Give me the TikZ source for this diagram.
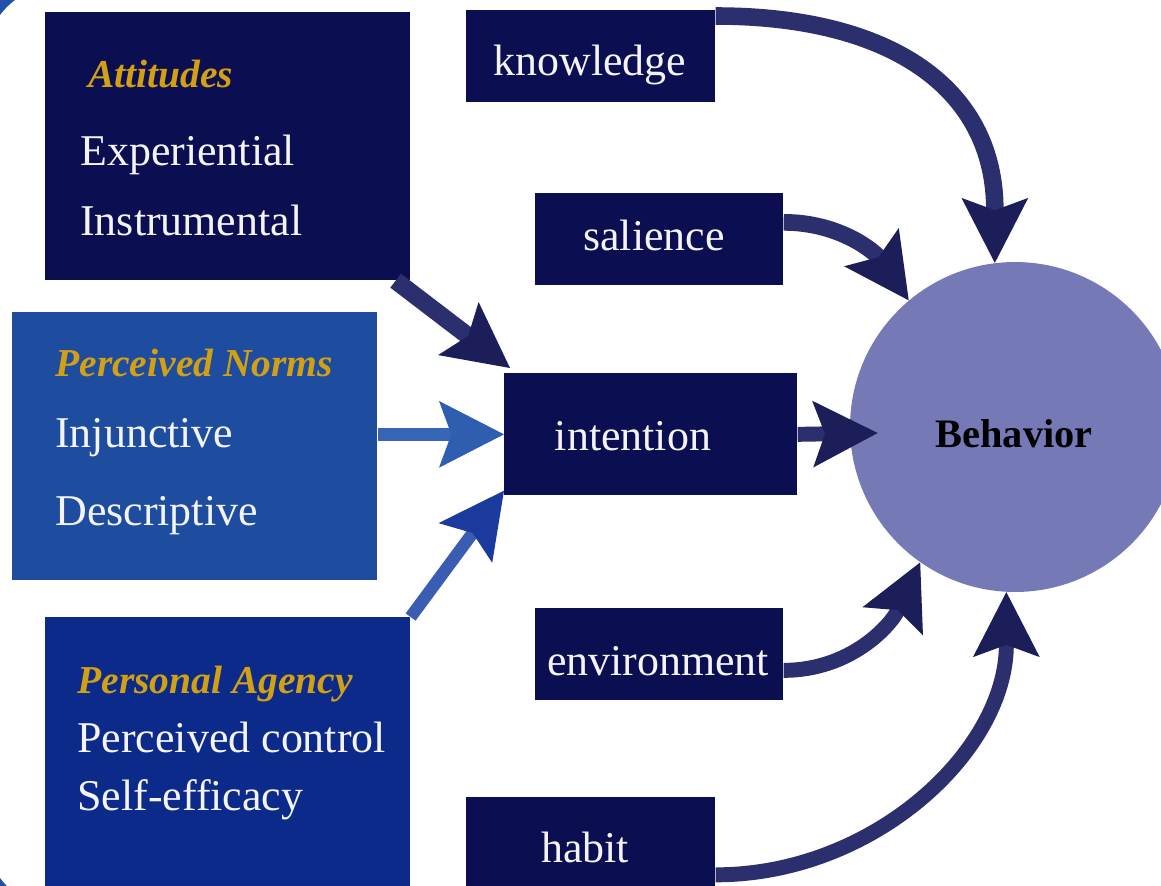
\documentclass[tikz,border=0pt]{standalone}
\usepackage{fontspec}
\setmainfont{Liberation Serif}
\usetikzlibrary{arrows.meta}

\definecolor{navybox}{HTML}{0B0E50}
\definecolor{normsblue}{HTML}{1E4C9E}
\definecolor{agencyblue}{HTML}{0C2A8A}
\definecolor{headgold}{HTML}{D1A015}
\definecolor{boxtext}{HTML}{F4F4F4}
\definecolor{behfill}{HTML}{7579B6}
\definecolor{frameblue}{HTML}{2350A8}
\definecolor{shaftnavy}{HTML}{2C2F6D}
\definecolor{headnavy}{HTML}{1C1E5A}
\definecolor{shaftnorms}{HTML}{3766B6}
\definecolor{headnorms}{HTML}{2F5DB0}
\definecolor{shaftagency}{HTML}{3A5DB3}
\definecolor{headagency}{HTML}{1A3A9E}

\begin{document}
\begin{tikzpicture}[x=0.02cm, y=-0.02cm,
  box/.style={rectangle, anchor=north west, inner sep=0pt},
  itemtxt/.style={anchor=base west, inner sep=0pt, text=boxtext, font=\fontsize{25}{30}\selectfont},
  headtxt/.style={anchor=base west, inner sep=0pt, text=headgold, font=\fontsize{22.5}{27}\selectfont\bfseries\itshape},
  boxtxt/.style={anchor=base, inner sep=0pt, text=boxtext, font=\fontsize{25}{30}\selectfont},
  fat/.style={line width=#1},
  headtip/.style={-{Stealth[length=37pt, width=38pt, inset=7pt, line width=0pt, color=#1]}}]

\useasboundingbox (0,0) rectangle (1161,886);
\fill[white] (0,0) rectangle (1161,886);
\draw[frameblue, line width=0.32cm, rounded corners=1.66cm] (-23,-23) rectangle (1400,916);

% left boxes
\node[box, fill=navybox, minimum width=7.3cm, minimum height=5.36cm] (att) at (45,12) {};
\node[box, fill=normsblue, minimum width=7.3cm, minimum height=5.36cm] (norms) at (12,312) {};
\node[box, fill=agencyblue, minimum width=7.3cm, minimum height=5.5cm] (agency) at (45,617) {};

% middle boxes
\node[box, fill=navybox, minimum width=4.98cm, minimum height=1.84cm] (know) at (466,10) {};
\node[box, fill=navybox, minimum width=4.96cm, minimum height=1.84cm] (sal) at (535,193) {};
\node[box, fill=navybox, minimum width=5.86cm, minimum height=2.44cm] (intent) at (504,373) {};
\node[box, fill=navybox, minimum width=4.96cm, minimum height=1.84cm] (env) at (535,608) {};
\node[box, fill=navybox, minimum width=4.98cm, minimum height=1.9cm] (habit) at (466,797) {};

\node[circle, fill=behfill, minimum size=6.6cm, inner sep=0pt] (beh) at (1015,427) {};

% texts
\node[headtxt] (attT) at (88,87) {Attitudes};
\node[itemtxt] (attA) at (80,165) {Experiential};
\node[itemtxt] (attB) at (80,235) {Instrumental};

\node[headtxt] (normsT) at (55,376) {Perceived Norms};
\node[itemtxt] (normsA) at (55,447) {Injunctive};
\node[itemtxt] (normsB) at (55,525) {Descriptive};

\node[headtxt] (agencyT) at (77,693) {Personal Agency};
\node[itemtxt] (agencyA) at (77,752) {Perceived control};
\node[itemtxt] (agencyB) at (77,810) {Self-efficacy};

\node[boxtxt] (knowT) at (590,75) {knowledge};
\node[boxtxt] (salT) at (654,250) {salience};
\node[boxtxt] (intentT) at (633,450) {intention};
\node[boxtxt] (envT) at (658,675) {environment};
\node[boxtxt] (habitT) at (585,862) {habit};
\node[anchor=base, inner sep=0pt, font=\fontsize{23}{28}\selectfont\bfseries] (behT) at (1014,447) {Behavior};

% arrows into intention
\draw[fat=10pt, draw=shaftnavy, headtip=headnavy] ([xshift=-0.3cm]att.south east) -- ([xshift=0.12cm, yshift=0.1cm]intent.north west);
\draw[fat=7.5pt, draw=shaftnorms, headtip=headnorms] (norms.east |- intent.west) -- (intent.west);
\draw[fat=7pt, draw=shaftagency, headtip=headagency] (agency.north east) -- ([yshift=0.1cm]intent.south west);

% arrows into behavior
\draw[fat=8.5pt, draw=shaftnavy, headtip=headnavy] (intent.east) -- ([xshift=0.56cm, yshift=-0.12cm]beh.west);
\draw[fat=10pt, draw=shaftnavy, headtip=headnavy] ([yshift=-0.12cm]know.north east) to[out=0, in=90, looseness=1.2] (beh.97);
\draw[fat=9.5pt, draw=shaftnavy, headtip=headnavy] ([yshift=0.34cm]sal.east) to[out=0, in=125] (beh.130);
\draw[fat=8.5pt, draw=shaftnavy, headtip=headnavy] ([yshift=-0.32cm]env.east) to[out=0, in=-115] (beh.-125);
\draw[fat=8.5pt, draw=shaftnavy, headtip=headnavy] ([yshift=-0.6cm]habit.east) to[out=0, in=-90] (beh.-93);

\end{tikzpicture}
\end{document}
